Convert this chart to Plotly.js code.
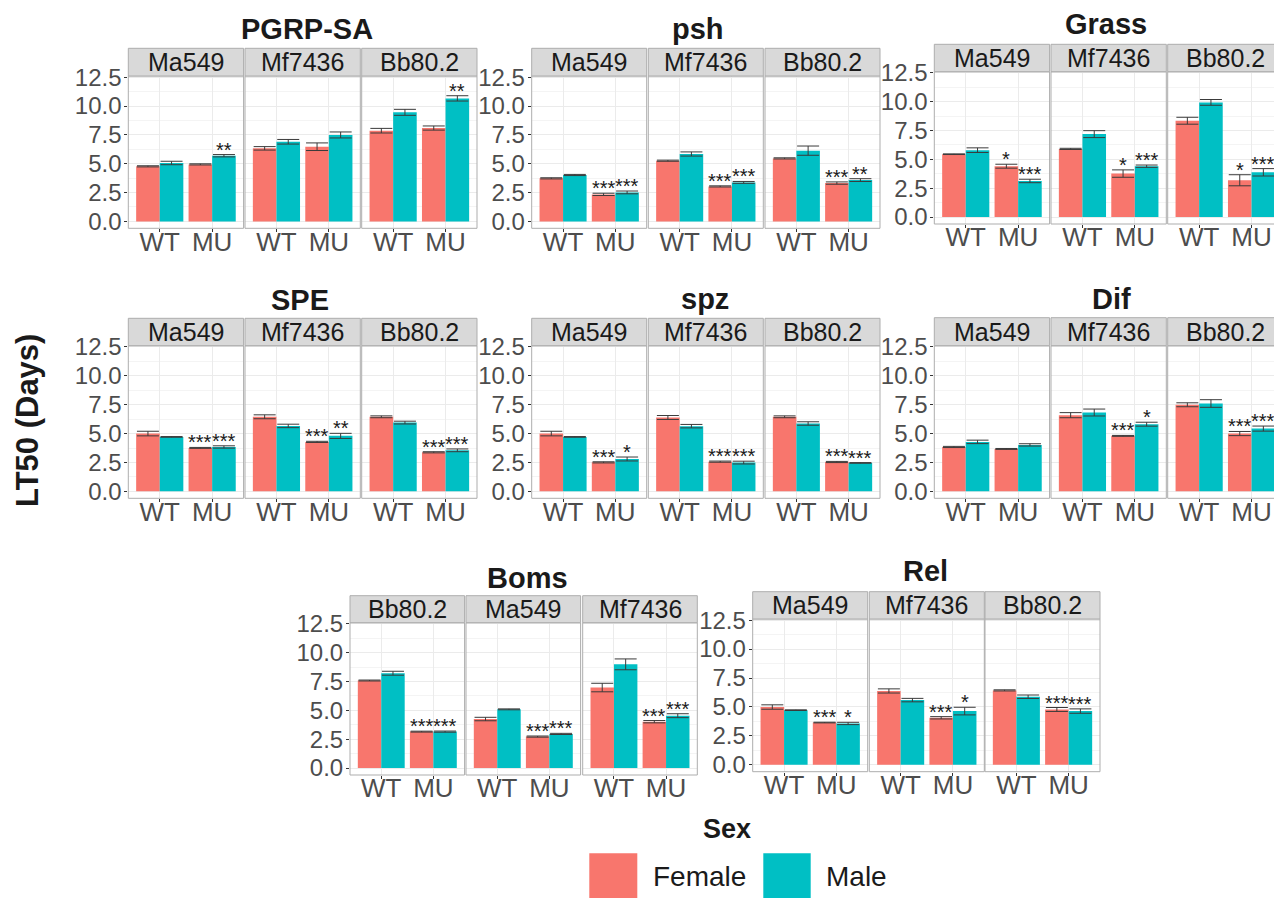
<!DOCTYPE html>
<html>
<head>
<meta charset="utf-8">
<script src="https://cdn.plot.ly/plotly-3.0.1.min.js"></script>
<style>html,body{margin:0;padding:0;background:#fff;}#chart{width:1274px;height:898px;}</style>
</head>
<body>
<div id="chart"></div>
<script>
// ---------------- DATA ----------------
// order inside each array: [strain1 WT, strain1 MU, strain2 WT, strain2 MU, strain3 WT, strain3 MU]
const genotypes = ['WT', 'MU'];
const sexes = ['Female', 'Male'];
const strainsDefault = ['Ma549', 'Mf7436', 'Bb80.2'];
const strainsBoms = ['Bb80.2', 'Ma549', 'Mf7436'];
const genes = ['PGRP-SA', 'psh', 'Grass', 'SPE', 'spz', 'Dif', 'Boms', 'Rel'];
const yTickVals = [0, 2.5, 5, 7.5, 10, 12.5];
const yTickText = ['0.0', '2.5', '5.0', '7.5', '10.0', '12.5'];

const pgrpFemale   = [4.77, 4.94, 6.33, 6.47, 7.86, 8.09];
const pgrpFemaleSE = [0.05, 0.05, 0.15, 0.33, 0.20, 0.18];
const pgrpMale     = [5.06, 5.69, 6.90, 7.49, 9.45, 10.66];
const pgrpMaleSE   = [0.15, 0.10, 0.20, 0.26, 0.26, 0.23];
const pgrpFemaleSig = ['', '', '', '', '', ''];
const pgrpMaleSig   = ['', '**', '', '', '', '**'];

const pshFemale   = [3.73, 2.34, 5.26, 3.03, 5.46, 3.32];
const pshFemaleSE = [0.05, 0.10, 0.05, 0.05, 0.05, 0.10];
const pshMale     = [4.02, 2.51, 5.84, 3.38, 6.13, 3.58];
const pshMaleSE   = [0.05, 0.12, 0.18, 0.08, 0.40, 0.12];
const pshFemaleSig = ['', '***', '', '***', '', '***'];
const pshMaleSig   = ['', '***', '', '***', '', '**'];

const grassFemale   = [5.45, 4.41, 5.91, 3.77, 8.35, 3.19];
const grassFemaleSE = [0.03, 0.17, 0.05, 0.32, 0.30, 0.48];
const grassMale     = [5.80, 3.13, 7.19, 4.41, 9.94, 3.88];
const grassMaleSE   = [0.20, 0.15, 0.30, 0.10, 0.25, 0.32];
const grassFemaleSig = ['', '*', '', '*', '', '*'];
const grassMaleSig   = ['', '***', '', '***', '', '***'];

const speFemale   = [5.00, 3.76, 6.45, 4.28, 6.45, 3.38];
const speFemaleSE = [0.20, 0.04, 0.17, 0.05, 0.08, 0.05];
const speMale     = [4.71, 3.84, 5.66, 4.80, 5.95, 3.55];
const speMaleSE   = [0.03, 0.10, 0.15, 0.22, 0.12, 0.12];
const speFemaleSig = ['', '***', '', '***', '', '***'];
const speMaleSig   = ['', '***', '', '**', '', '***'];

const spzFemale   = [5.00, 2.51, 6.39, 2.57, 6.45, 2.54];
const spzFemaleSE = [0.20, 0.05, 0.17, 0.05, 0.08, 0.05];
const spzMale     = [4.71, 2.80, 5.64, 2.49, 5.87, 2.46];
const spzMaleSE   = [0.03, 0.17, 0.15, 0.12, 0.15, 0.03];
const spzFemaleSig = ['', '***', '', '***', '', '***'];
const spzMaleSig   = ['', '*', '', '***', '', '***'];

const difFemale   = [3.84, 3.67, 6.59, 4.80, 7.49, 5.00];
const difFemaleSE = [0.05, 0.04, 0.22, 0.04, 0.17, 0.18];
const difMale     = [4.28, 4.02, 6.82, 5.81, 7.60, 5.43];
const difMaleSE   = [0.15, 0.10, 0.30, 0.17, 0.33, 0.22];
const difFemaleSig = ['', '', '', '***', '', '***'];
const difMaleSig   = ['', '', '', '*', '', '***'];

const bomsFemale   = [7.59, 3.16, 4.25, 2.73, 6.98, 4.02];
const bomsFemaleSE = [0.04, 0.04, 0.15, 0.05, 0.37, 0.10];
const bomsMale     = [8.22, 3.16, 5.09, 2.96, 8.99, 4.54];
const bomsMaleSE   = [0.17, 0.05, 0.04, 0.05, 0.47, 0.17];
const bomsFemaleSig = ['', '***', '', '***', '', '***'];
const bomsMaleSig   = ['', '***', '', '***', '', '***'];

const relFemale   = [4.99, 3.65, 6.38, 4.06, 6.43, 4.78];
const relFemaleSE = [0.19, 0.03, 0.18, 0.10, 0.05, 0.17];
const relMale     = [4.72, 3.57, 5.59, 4.64, 5.88, 4.64];
const relMaleSE   = [0.03, 0.10, 0.15, 0.33, 0.15, 0.19];
const relFemaleSig = ['', '***', '', '***', '', '***'];
const relMaleSig   = ['', '*', '', '*', '', '***'];

// ---------------- LAYOUT HELPERS ----------------
const W = 1274, H = 898;
const FONT = 'Liberation Sans, Arial, Helvetica, sans-serif';
const FEMALE_COL = '#F8766D', MALE_COL = '#00BFC4';
const BORDER = '#ADADAD', STRIP = '#D9D9D9', GRID = '#EBEBEB', MINOR = '#F4F4F4';
const px = x => x / W;
const py = y => 1 - y / H;

const geneData = [
  [pgrpFemale, pgrpFemaleSE, pgrpMale, pgrpMaleSE, pgrpFemaleSig, pgrpMaleSig, strainsDefault],
  [pshFemale, pshFemaleSE, pshMale, pshMaleSE, pshFemaleSig, pshMaleSig, strainsDefault],
  [grassFemale, grassFemaleSE, grassMale, grassMaleSE, grassFemaleSig, grassMaleSig, strainsDefault],
  [speFemale, speFemaleSE, speMale, speMaleSE, speFemaleSig, speMaleSig, strainsDefault],
  [spzFemale, spzFemaleSE, spzMale, spzMaleSE, spzFemaleSig, spzMaleSig, strainsDefault],
  [difFemale, difFemaleSE, difMale, difMaleSE, difFemaleSig, difMaleSig, strainsDefault],
  [bomsFemale, bomsFemaleSE, bomsMale, bomsMaleSE, bomsFemaleSig, bomsMaleSig, strainsBoms],
  [relFemale, relFemaleSE, relMale, relMaleSE, relFemaleSig, relMaleSig, strainsDefault]
];

// pixel geometry of each gene panel
const geom = [
  {xs: [128.3, 245.0, 361.7], w: 115.3, st: 48.3, pt: 76.0, pb: 228.3, tx: 307, tb: 39.3},
  {xs: [531.7, 648.3, 765.0], w: 115.0, st: 48.3, pt: 76.0, pb: 228.3, tx: 698, tb: 39.3},
  {xs: [934.3, 1051.0, 1167.7], w: 115.3, st: 44.3, pt: 71.7, pb: 224.0, tx: 1106, tb: 34.3},
  {xs: [128.3, 245.0, 361.7], w: 115.3, st: 318.3, pt: 345.7, pb: 498.3, tx: 300, tb: 310},
  {xs: [531.7, 648.3, 765.0], w: 115.0, st: 318.3, pt: 345.7, pb: 498.3, tx: 705, tb: 309.3},
  {xs: [934.3, 1051.0, 1167.7], w: 115.3, st: 317.7, pt: 345.7, pb: 498.3, tx: 1111.7, tb: 309.3},
  {xs: [350.0, 466.0, 582.7], w: 114.6, st: 595.7, pt: 622.7, pb: 775.0, tx: 527.5, tb: 588.3},
  {xs: [752.7, 869.3, 985.0], w: 115.0, st: 591.7, pt: 619.0, pb: 771.7, tx: 925, tb: 581}
];

const traces = [];
const layout = {
  width: W, height: H,
  margin: {l: 0, r: 0, t: 0, b: 0, pad: 0},
  paper_bgcolor: '#fff', plot_bgcolor: '#fff',
  barmode: 'group', bargap: 0.1, bargroupgap: 0,
  showlegend: false,
  font: {family: FONT, color: '#1A1A1A'},
  shapes: [], annotations: []
};

geneData.forEach((gd, gi) => {
  const [fM, fSE, mM, mSE, fSig, mSig, strains] = gd;
  const g = geom[gi];
  // gene title
  layout.annotations.push({
    xref: 'paper', yref: 'paper', x: px(g.tx), y: py(g.tb - 10), xanchor: 'center', yanchor: 'middle',
    text: '<b>' + genes[gi] + '</b>', showarrow: false, font: {size: 29, color: '#1A1A1A', family: FONT}
  });
  strains.forEach((strain, fi) => {
    const n = gi * 3 + fi + 1;
    const xl = g.xs[fi], xr = xl + g.w;
    const xr2 = Math.min(xr, W);
    const rMax = -0.6 + 2.2 * (xr2 - xl) / g.w;
    const xk = 'xaxis' + (n === 1 ? '' : n), yk = 'yaxis' + (n === 1 ? '' : n);
    const xid = 'x' + (n === 1 ? '' : n), yid = 'y' + (n === 1 ? '' : n);
    layout[xk] = {
      domain: [px(xl), px(xr2)], anchor: yid, type: 'category',
      categoryorder: 'array', categoryarray: genotypes, range: [-0.6, rMax],
      showgrid: true, gridcolor: GRID, gridwidth: 1, zeroline: false, showline: false,
      ticks: 'outside', ticklen: 3, tickwidth: 1, tickcolor: '#333', ticklabelstandoff: -13,
      tickfont: {size: 26, color: '#4D4D4D', family: FONT}, fixedrange: true
    };
    layout[yk] = {
      domain: [py(g.pb), py(g.pt)], anchor: xid, range: [-0.6, 12.6],
      tickmode: 'array', tickvals: yTickVals, ticktext: yTickText,
      showticklabels: fi === 0, ticks: fi === 0 ? 'outside' : '', ticklen: 3, tickwidth: 1, tickcolor: '#333',
      ticklabelstandoff: -2,
      tickfont: {size: 24, color: '#4D4D4D', family: FONT},
      showgrid: true, gridcolor: GRID, gridwidth: 1, zeroline: false, showline: false,
      minor: {tickmode: 'array', tickvals: [1.25, 3.75, 6.25, 8.75, 11.25], showgrid: true, gridcolor: MINOR, gridwidth: 1, ticks: ''},
      fixedrange: true
    };
    const idx = [fi * 2, fi * 2 + 1];
    traces.push({
      type: 'bar', name: sexes[0], x: genotypes, y: idx.map(i => fM[i]),
      marker: {color: FEMALE_COL, line: {width: 0}}, xaxis: xid, yaxis: yid,
      error_y: {type: 'data', array: idx.map(i => fSE[i]), visible: true, color: '#3A3A3A', thickness: 1, width: 11},
      hoverinfo: 'skip'
    });
    traces.push({
      type: 'bar', name: sexes[1], x: genotypes, y: idx.map(i => mM[i]),
      marker: {color: MALE_COL, line: {width: 0}}, xaxis: xid, yaxis: yid,
      error_y: {type: 'data', array: idx.map(i => mSE[i]), visible: true, color: '#3A3A3A', thickness: 1, width: 11},
      hoverinfo: 'skip'
    });
    // panel border and strip
    layout.shapes.push({type: 'rect', xref: 'paper', yref: 'paper', x0: px(xl), x1: px(xr), y0: py(g.pb), y1: py(g.pt),
      line: {color: BORDER, width: 1}, fillcolor: 'rgba(0,0,0,0)', layer: 'above'});
    layout.shapes.push({type: 'rect', xref: 'paper', yref: 'paper', x0: px(xl), x1: px(xr), y0: py(g.pt), y1: py(g.st),
      line: {color: BORDER, width: 1}, fillcolor: STRIP, layer: 'above'});
    layout.annotations.push({
      xref: 'paper', yref: 'paper', x: px((xl + xr) / 2), y: py((g.st + g.pt) / 2), xanchor: 'center', yanchor: 'middle',
      text: strain, showarrow: false, font: {size: 25, color: '#1A1A1A', family: FONT}
    });
    // significance stars
    idx.forEach((i, k) => {
      [[fSig, fM, fSE, -0.225], [mSig, mM, mSE, 0.225]].forEach(([sig, mean, se, off]) => {
        if (sig[i]) {
          layout.annotations.push({
            xref: xid, yref: yid, x: k + off, y: mean[i] + se[i], xanchor: 'center', yanchor: 'middle', yshift: 5,
            text: sig[i], showarrow: false, font: {size: 20, color: '#1A1A1A', family: FONT}
          });
        }
      });
    });
  });
});

// y axis title
layout.annotations.push({
  xref: 'paper', yref: 'paper', x: px(27), y: py(421), xanchor: 'center', yanchor: 'middle', textangle: -90,
  text: '<b>LT50 (Days)</b>', showarrow: false, font: {size: 31, color: '#1A1A1A', family: FONT}
});
// legend
layout.annotations.push({
  xref: 'paper', yref: 'paper', x: px(727), y: py(829), xanchor: 'center', yanchor: 'middle',
  text: '<b>Sex</b>', showarrow: false, font: {size: 27, color: '#1A1A1A', family: FONT}
});
layout.shapes.push({type: 'rect', xref: 'paper', yref: 'paper', x0: px(589.3), x1: px(637.3), y0: py(901), y1: py(853.3),
  line: {width: 0}, fillcolor: FEMALE_COL});
layout.shapes.push({type: 'rect', xref: 'paper', yref: 'paper', x0: px(763.3), x1: px(810.7), y0: py(901), y1: py(853.3),
  line: {width: 0}, fillcolor: MALE_COL});
layout.annotations.push({
  xref: 'paper', yref: 'paper', x: px(651), y: py(876), xanchor: 'left', yanchor: 'middle',
  text: sexes[0], showarrow: false, font: {size: 28, color: '#1A1A1A', family: FONT}
});
layout.annotations.push({
  xref: 'paper', yref: 'paper', x: px(824), y: py(876), xanchor: 'left', yanchor: 'middle',
  text: sexes[1], showarrow: false, font: {size: 28, color: '#1A1A1A', family: FONT}
});

Plotly.newPlot('chart', traces, layout, {staticPlot: true, displayModeBar: false});
</script>
</body>
</html>
